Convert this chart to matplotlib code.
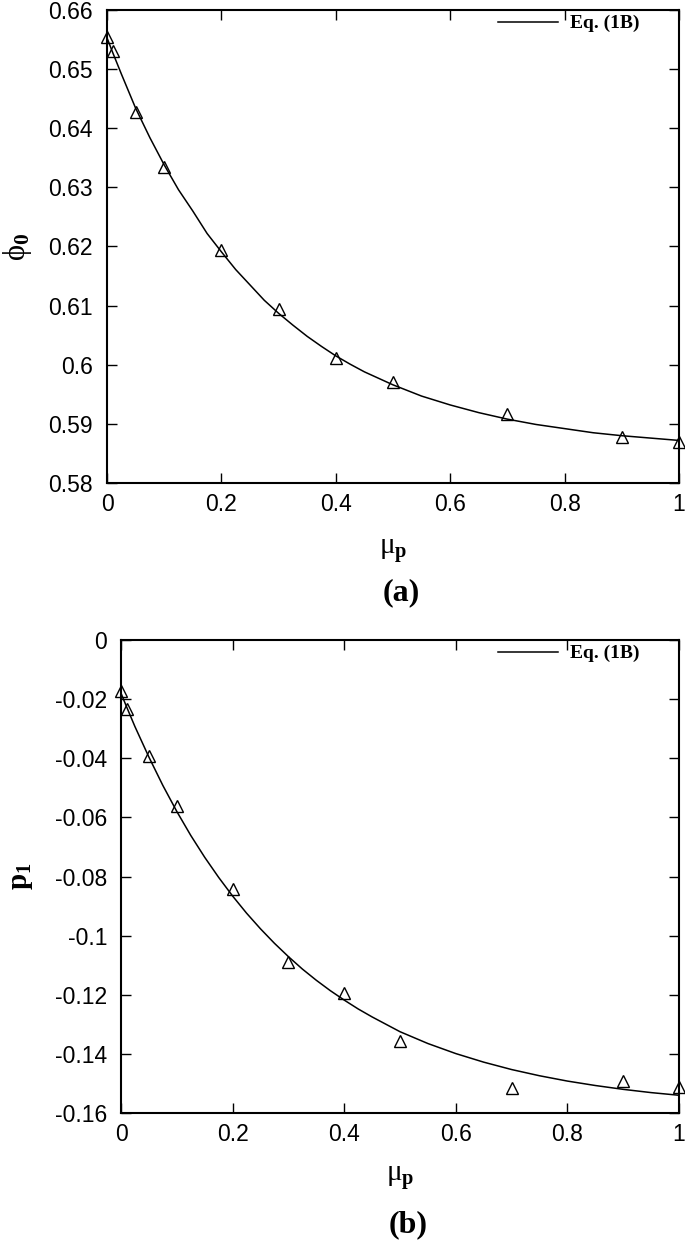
# Two-panel plot: phi_0 and p_1 vs mu_p, points + Eq. (1B) curve
import matplotlib
matplotlib.use("Agg")
import matplotlib.pyplot as plt
from matplotlib.ticker import FuncFormatter, MultipleLocator

plt.rcParams['axes.unicode_minus'] = False
plt.rcParams['mathtext.fontset'] = 'custom'
plt.rcParams['mathtext.rm'] = 'Liberation Serif'
plt.rcParams['mathtext.it'] = 'Liberation Serif'
plt.rcParams['mathtext.bf'] = 'Liberation Serif:bold'

# simulation points
mu_pts = [0, 0.01, 0.05, 0.1, 0.2, 0.3, 0.4, 0.5, 0.7, 0.9, 1.0]
phi0_pts = [0.6555, 0.6530, 0.6428, 0.6335, 0.6194, 0.6095, 0.6011, 0.5971, 0.5917, 0.5878, 0.5870]
p1_pts = [-0.0173, -0.0233, -0.0391, -0.0560, -0.0843, -0.1088, -0.1194, -0.1356, -0.1515, -0.1492, -0.1512]

# Eq. (1B) curve
mu_curve = [0, 0.01, 0.025, 0.05, 0.075, 0.1, 0.125, 0.15, 0.175, 0.2, 0.225,
            0.25, 0.275, 0.3, 0.325, 0.35, 0.375, 0.4, 0.425, 0.45, 0.475,
            0.5, 0.55, 0.6, 0.65, 0.7, 0.75, 0.8, 0.85, 0.9, 0.95, 1.0]
phi0_curve = [0.6553, 0.6528, 0.6492, 0.6434, 0.6384, 0.6338, 0.6296, 0.6260,
              0.6222, 0.6191, 0.6161, 0.6135, 0.6109, 0.6087, 0.6067, 0.6048,
              0.6031, 0.6015, 0.6001, 0.5988, 0.5977, 0.5966, 0.5947, 0.5932,
              0.5919, 0.5908, 0.5899, 0.5892, 0.5885, 0.5880, 0.5876, 0.5872]
p1_curve = [-0.0180, -0.0226, -0.0293, -0.0396, -0.0492, -0.0580, -0.0661,
            -0.0735, -0.0803, -0.0866, -0.0924, -0.0977, -0.1026, -0.1071,
            -0.1113, -0.1151, -0.1186, -0.1218, -0.1248, -0.1275, -0.1300,
            -0.1325, -0.1365, -0.1399, -0.1428, -0.1453, -0.1474, -0.1492,
            -0.1507, -0.1520, -0.1531, -0.1540]

W, H = 685, 1248
fig = plt.figure(figsize=(W / 100, H / 100), dpi=100)

def fmt(v, pos):
    v = round(v, 4)
    if v == 0:
        return '0'
    return '%g' % v

def setup(ax, ylo, yhi, ystep):
    ax.set_xlim(0, 1)
    ax.set_ylim(ylo, yhi)
    ax.xaxis.set_major_locator(MultipleLocator(0.2))
    ax.yaxis.set_major_locator(MultipleLocator(ystep))
    ax.xaxis.set_major_formatter(FuncFormatter(fmt))
    ax.yaxis.set_major_formatter(FuncFormatter(fmt))
    ax.tick_params(direction='in', length=7, width=1, top=True, right=True,
                   labelsize=16.5, colors='black')
    ax.tick_params(axis='y', pad=10)
    ax.tick_params(axis='x', pad=7)
    for lab in ax.get_xticklabels() + ax.get_yticklabels():
        lab.set_fontfamily('Liberation Sans')
    for s in ax.spines.values():
        s.set_linewidth(1.5)

def px_ax(l, t, r, b):
    return [l / W, 1 - b / H, (r - l) / W, (b - t) / H]

panels = [
    (px_ax(107, 10, 679, 483), phi0_pts, phi0_curve, 0.58, 0.66, 0.01,
     r'$\mathrm{\phi}_{\mathbf{0}}$', 18, 22, 551, '(a)', 593),
    (px_ax(121, 640, 679, 1113), p1_pts, p1_curve, -0.16, 0.0, 0.02,
     r'$\mathbf{p}_{\mathbf{1}}$', 21, 21, 1178, '(b)', 1225),
]

for rect, pts, curve, ylo, yhi, ystep, ylab, ylab_x, ylab_fs, xlab_y, tag, tag_y in panels:
    ax = fig.add_axes(rect)
    ax.plot(mu_curve, curve, color='black', lw=1.1, label='Eq. (1B)')
    ax.plot(mu_pts, pts, linestyle='none', marker='^', markersize=8.5,
            markerfacecolor='none', markeredgecolor='black', markeredgewidth=1.0,
            clip_on=False)
    setup(ax, ylo, yhi, ystep)
    l = rect[0] * W
    ax_w = rect[2] * W
    ax.legend(loc='upper right', bbox_to_anchor=((639 - l) / ax_w, 0.99), frameon=False,
              borderpad=0, borderaxespad=0, handlelength=3.1, handletextpad=0.6,
              prop={'family': 'Liberation Serif', 'weight': 'bold', 'size': 14})
    fig.text(ylab_x / W, rect[1] + rect[3] / 2, ylab, rotation=90, ha='center',
             va='center', fontsize=ylab_fs)
    xc = (rect[0] + rect[2] / 2)
    fig.text(xc, 1 - xlab_y / H, r'$\mathrm{\mu}_{\mathbf{p}}$', ha='center',
             va='center', fontsize=21)
    fig.text(xc + 0.012, 1 - tag_y / H, tag, ha='center', va='center',
             fontsize=23, fontweight='bold', family='Liberation Serif')

fig.savefig('out.png', dpi=100)
